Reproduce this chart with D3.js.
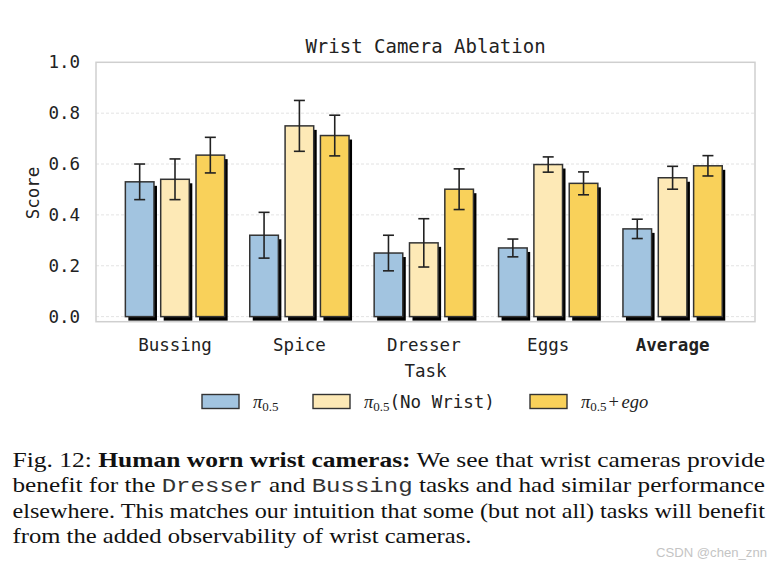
<!DOCTYPE html>
<html>
<head>
<meta charset="utf-8">
<script src="https://cdn.jsdelivr.net/npm/d3@7"></script>
<style>
  body { margin: 0; background: #fff; }
  svg { display: block; }
</style>
</head>
<body>
<svg id="chart" width="774" height="561"></svg>
<script>
// data
const tasks = ["Bussing", "Spice", "Dresser", "Eggs", "Average"];
const seriesNames = ["pi05", "noWrist", "ego"];
const baseScores = [0.53, 0.32, 0.25, 0.27, 0.345];
const baseErr = [0.07, 0.09, 0.07, 0.035, 0.038];
const noWristScores = [0.54, 0.75, 0.29, 0.598, 0.546];
const noWristErr = [0.08, 0.10, 0.095, 0.03, 0.045];
const egoScores = [0.635, 0.712, 0.501, 0.524, 0.593];
const egoErr = [0.07, 0.08, 0.08, 0.045, 0.04];
const yTicks = [0.0, 0.2, 0.4, 0.6, 0.8, 1.0];

const colors = { pi05: "#a2c4e0", noWrist: "#fde9b6", ego: "#f9d15a" };
const valuesBySeries = { pi05: baseScores, noWrist: noWristScores, ego: egoScores };
const errBySeries = { pi05: baseErr, noWrist: noWristErr, ego: egoErr };

const svg = d3.select("#chart");
const mono = "'DejaVu Sans Mono', monospace";
const serif = "'Liberation Serif', 'Times New Roman', serif";

const plot = { left: 96, right: 755, top: 62.3, bottom: 321.7 };

const x = d3.scaleBand().domain(tasks).range([112.8, 734.8]);
const xSub = d3.scaleBand().domain(seriesNames).range([-53, 53])
  .paddingInner(0.19).paddingOuter(0.095);
const y = d3.scaleLinear().domain([-0.02, 1.0]).range([plot.bottom, plot.top]);

// grid
svg.append("g").selectAll("line").data(yTicks.filter(d => d < 1)).join("line")
  .attr("x1", plot.left).attr("x2", plot.right)
  .attr("y1", d => y(d)).attr("y2", d => y(d))
  .attr("stroke", "#dcdcdc").attr("stroke-width", 0.8)
  .attr("stroke-dasharray", "3,2");

// frame
svg.append("rect")
  .attr("x", plot.left).attr("y", plot.top)
  .attr("width", plot.right - plot.left).attr("height", plot.bottom - plot.top)
  .attr("fill", "none").attr("stroke", "#cfcfcf").attr("stroke-width", 1.5);

// y axis labels
const yAxis = d3.axisLeft(y).tickValues(yTicks).tickFormat(d3.format(".1f")).tickSize(0).tickPadding(16);
const yg = svg.append("g").attr("transform", `translate(${plot.left},0)`).call(yAxis);
yg.select(".domain").remove();
yg.selectAll("text").attr("font-family", mono).attr("font-size", 17.5).attr("fill", "#222");

// x axis labels
const xAxis = d3.axisBottom(x).tickSize(0).tickPadding(0);
const xg = svg.append("g").attr("transform", `translate(0,351)`).call(xAxis);
xg.select(".domain").remove();
xg.selectAll("text").attr("dy", 0).attr("y", 0)
  .attr("font-family", mono).attr("font-size", 17.5).attr("fill", "#222")
  .attr("font-weight", d => d === "Average" ? "bold" : "normal");

// bars
const barData = [];
tasks.forEach((t, i) => {
  seriesNames.forEach(s => {
    barData.push({ task: t, series: s, value: valuesBySeries[s][i], err: errBySeries[s][i] });
  });
});

const bars = svg.append("g");
// shadows
bars.selectAll("rect.shadow").data(barData).join("rect")
  .attr("class", "shadow")
  .attr("x", d => x(d.task) + x.bandwidth() / 2 + xSub(d.series) + 3)
  .attr("y", d => y(d.value) + 4)
  .attr("width", xSub.bandwidth())
  .attr("height", d => y(0) - y(d.value))
  .attr("fill", "#000");
bars.selectAll("rect.bar").data(barData).join("rect")
  .attr("class", "bar")
  .attr("x", d => x(d.task) + x.bandwidth() / 2 + xSub(d.series))
  .attr("y", d => y(d.value))
  .attr("width", xSub.bandwidth())
  .attr("height", d => y(0) - y(d.value))
  .attr("fill", d => colors[d.series])
  .attr("stroke", "#333").attr("stroke-width", 1.5);

// error bars
const eb = svg.append("g").attr("stroke", "#222").attr("stroke-width", 1.6);
const cx = d => x(d.task) + x.bandwidth() / 2 + xSub(d.series) + xSub.bandwidth() / 2;
eb.selectAll("line.v").data(barData).join("line")
  .attr("x1", cx).attr("x2", cx)
  .attr("y1", d => y(d.value - d.err)).attr("y2", d => y(d.value + d.err));
eb.selectAll("line.top").data(barData).join("line")
  .attr("x1", d => cx(d) - 5.5).attr("x2", d => cx(d) + 5.5)
  .attr("y1", d => y(d.value + d.err)).attr("y2", d => y(d.value + d.err));
eb.selectAll("line.bot").data(barData).join("line")
  .attr("x1", d => cx(d) - 5.5).attr("x2", d => cx(d) + 5.5)
  .attr("y1", d => y(d.value - d.err)).attr("y2", d => y(d.value - d.err));

// title & axis titles
svg.append("text").attr("x", 425.5).attr("y", 53).attr("text-anchor", "middle")
  .attr("font-family", mono).attr("font-size", 19).attr("fill", "#222")
  .text("Wrist Camera Ablation");
svg.append("text").attr("x", 425.5).attr("y", 377).attr("text-anchor", "middle")
  .attr("font-family", mono).attr("font-size", 17.5).attr("fill", "#222")
  .text("Task");
svg.append("text").attr("transform", "translate(39,193) rotate(-90)").attr("text-anchor", "middle")
  .attr("font-family", mono).attr("font-size", 17.5).attr("fill", "#222")
  .text("Score");

// legend
const legendX = [202, 313, 530];
const leg = svg.append("g");
seriesNames.forEach((s, i) => {
  leg.append("rect").attr("x", legendX[i]).attr("y", 394.5).attr("width", 37).attr("height", 14)
    .attr("fill", colors[s]).attr("stroke", "#333").attr("stroke-width", 1.4);
  const t = leg.append("text").attr("x", legendX[i] + 51).attr("y", 408)
    .attr("font-family", serif).attr("font-size", 18.5).attr("fill", "#222");
  t.append("tspan").attr("font-style", "italic").text("π");
  t.append("tspan").attr("font-size", 13).attr("dy", 3).text("0.5");
  if (s === "noWrist") {
    t.append("tspan").attr("dy", -3).attr("font-family", mono).attr("font-size", 17.5).text("(No Wrist)");
  } else if (s === "ego") {
    t.append("tspan").attr("dy", -3).attr("dx", 2).text("+");
    t.append("tspan").attr("font-style", "italic").attr("dx", 2.5).text("ego");
  }
});

// caption
const captionLines = [
  [["Fig. 12: ", "n"], ["Human worn wrist cameras:", "b"], [" We see that wrist cameras provide", "n"]],
  [["benefit for the ", "n"], ["Dresser", "m"], [" and ", "n"], ["Bussing", "m"], [" tasks and had similar performance", "n"]],
  [["elsewhere. This matches our intuition that some (but not all) tasks will benefit", "n"]],
  [["from the added observability of wrist cameras.", "n"]]
];
const captionWidths = [752.5, 752.5, 752.5, 459];
const cap = svg.append("g").attr("font-family", serif).attr("font-size", 21).attr("fill", "#111");
captionLines.forEach((line, i) => {
  const t = cap.append("text").attr("x", 12.5).attr("y", 466.7 + i * 25.5)
    .attr("xml:space", "preserve").style("white-space", "pre")
    .attr("textLength", captionWidths[i]).attr("lengthAdjust", "spacingAndGlyphs");
  line.forEach(([txt, st]) => {
    const sp = t.append("tspan").text(txt);
    if (st === "b") sp.attr("font-weight", "bold");
    if (st === "m") sp.attr("font-family", "'Liberation Mono', 'Courier New', monospace").attr("font-size", 20).attr("fill", "#333");
  });
});

svg.append("text").attr("x", 767).attr("y", 557).attr("text-anchor", "end")
  .attr("font-family", "'Liberation Sans', sans-serif").attr("font-size", 12.5)
  .attr("fill", "#c4c4c4").attr("textLength", 111).attr("lengthAdjust", "spacingAndGlyphs")
  .text("CSDN @chen_znn");
</script>
</body>
</html>
